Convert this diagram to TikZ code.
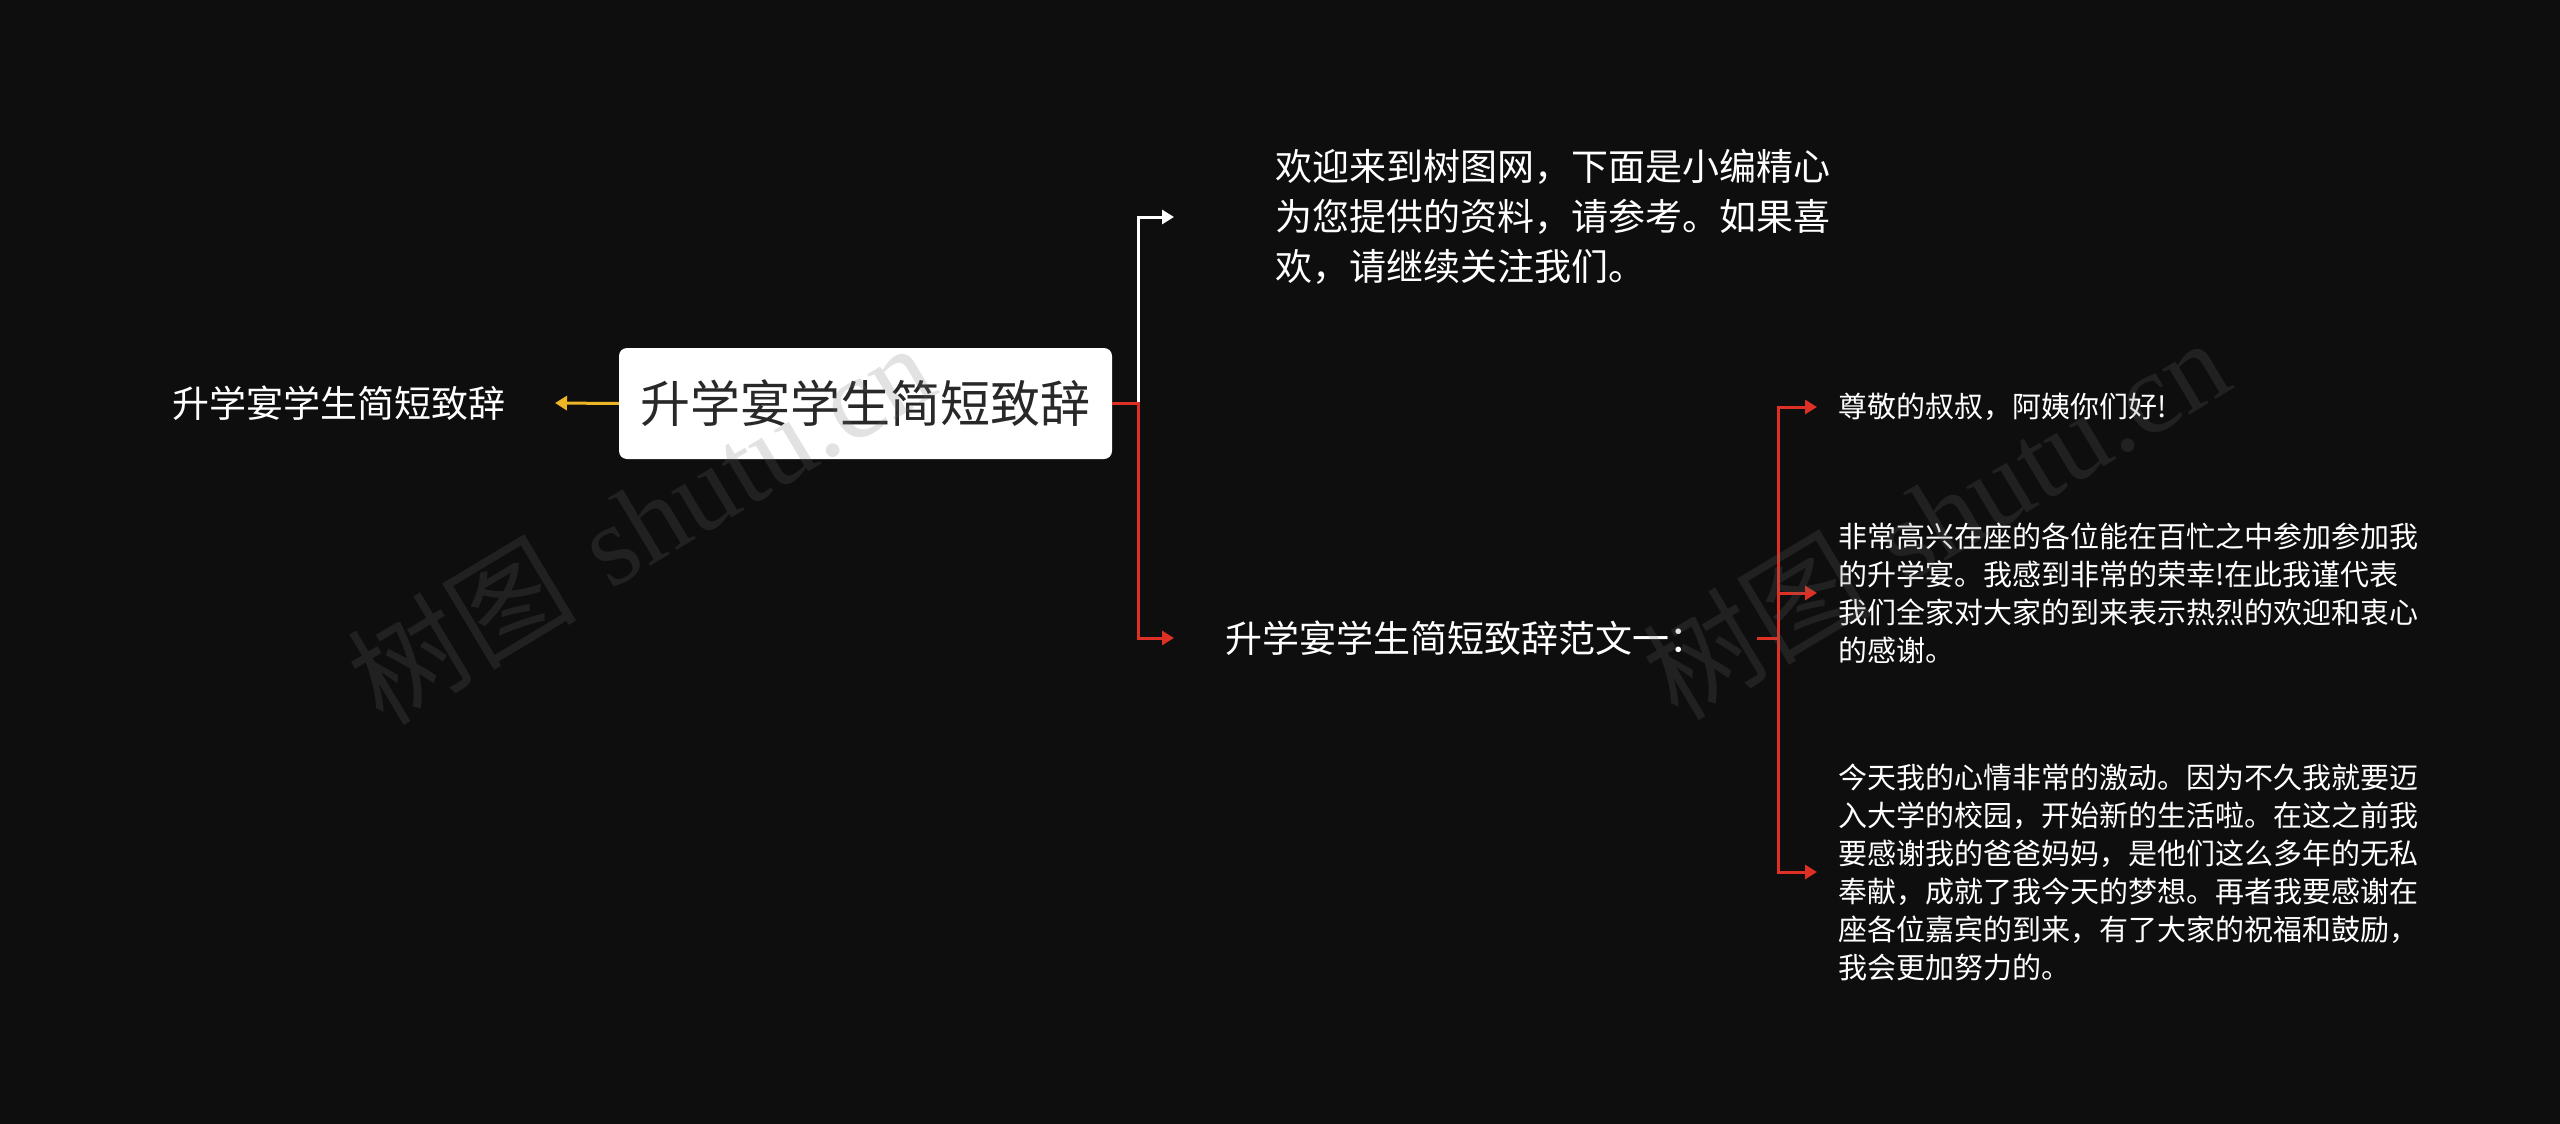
\documentclass[tikz,border=0pt]{standalone}
\usepackage{fontspec}
\newfontfamily\cjk{Noto Sans CJK SC}
\newfontfamily\wmlatin{Liberation Serif}
\usetikzlibrary{arrows.meta}
\definecolor{bg}{RGB}{14,14,14}
\definecolor{redline}{RGB}{222,48,36}
\definecolor{yellowline}{RGB}{236,182,38}
\definecolor{boxtext}{RGB}{40,40,40}
\definecolor{wmgray}{RGB}{110,110,110}
\tikzset{
  tip/.style={-{Triangle[length=12pt,width=14pt]}},
  conn/.style={line width=3pt, tip},
  plain/.style={text=white, align=left, inner ysep=0pt},
  bigtxt/.style={plain, font=\cjk\fontsize{37}{50}\selectfont},
  smalltxt/.style={plain, font=\cjk\fontsize{29}{38}\selectfont},
  rootbox/.style={fill=white, rounded corners=8pt, minimum width=493pt, minimum height=111pt,
     inner sep=0pt, text=boxtext, font=\cjk\fontsize{50}{60}\selectfont},
  watermark/.style={rotate=31, text=wmgray, opacity=0.2, font=\fontsize{115}{115}\selectfont}
}
\begin{document}
\begin{tikzpicture}[x=1pt,y=-1pt]
\fill[bg] (0,0) rectangle (2560,1124);
\useasboundingbox (0,0) rectangle (2560,1124);

\node[rootbox] (root) at (865.5,403.5) {升学宴学生简短致辞};
\node[bigtxt, anchor=east, inner xsep=49pt] (left) at (555,403) {升学宴学生简短致辞};
\node[bigtxt, anchor=west, inner xsep=101pt] (top) at (1174,217)
  {欢迎来到树图网，下面是小编精心\\为您提供的资料，请参考。如果喜\\欢，请继续关注我们。};
\node[bigtxt, anchor=west, inner xsep=51pt] (mid) at (1174,638) {升学宴学生简短致辞范文一：};
\node[smalltxt, anchor=west, inner xsep=21pt] (r1) at (1817,407) {尊敬的叔叔，阿姨你们好!};
\node[smalltxt, anchor=west, inner xsep=21pt] (r2) at (1817,593)
  {非常高兴在座的各位能在百忙之中参加参加我\\的升学宴。我感到非常的荣幸!在此我谨代表\\我们全家对大家的到来表示热烈的欢迎和衷心\\的感谢。};
\node[smalltxt, anchor=west, inner xsep=21pt] (r3) at (1817,872)
  {今天我的心情非常的激动。因为不久我就要迈\\入大学的校园，开始新的生活啦。在这之前我\\要感谢我的爸爸妈妈，是他们这么多年的无私\\奉献，成就了我今天的梦想。再者我要感谢在\\座各位嘉宾的到来，有了大家的祝福和鼓励，\\我会更加努力的。};

\draw[conn, yellowline] (root.west) -- (left.east);
\draw[conn, white] (root.east) -- ++(26,0) |- (top.west);
\draw[conn, redline] (root.east) -- ++(26,0) |- (mid.west);
\draw[conn, redline] (mid.east) -- ++(21,0) |- (r1.west);
\draw[conn, redline] (mid.east) -- ++(21,0) |- (r2.west);
\draw[conn, redline] (mid.east) -- ++(21,0) |- (r3.west);

\node[watermark] (wm1) at (640,522) {{\cjk 树图} {\wmlatin shutu.cn}};
\node[watermark] (wm2) at (1935,517) {{\cjk 树图} {\wmlatin shutu.cn}};
\end{tikzpicture}
\end{document}
